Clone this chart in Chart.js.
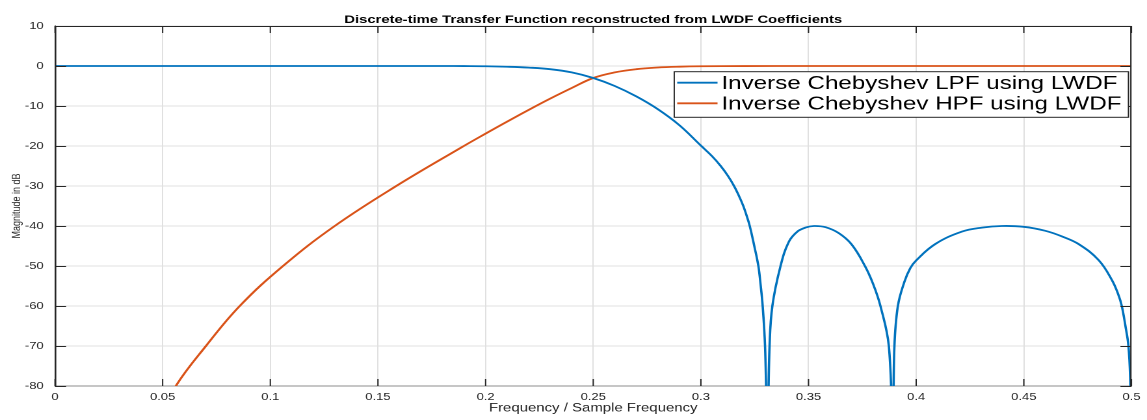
<!DOCTYPE html>
<html>
<head>
<meta charset="utf-8">
<title>Discrete-time Transfer Function</title>
<script src="https://cdn.jsdelivr.net/npm/chart.js@4.4.1/dist/chart.umd.min.js"></script>
<style>
  html, body { margin: 0; padding: 0; background: #fff; overflow: hidden; }
  /* the reference is a horizontally stretched MATLAB figure */
  #wrap { width: 882px; height: 420px; transform: scaleX(1.30045); transform-origin: 0 0; }
  #chart { display: block; }
</style>
</head>
<body>
<div id="wrap"><canvas id="chart" width="882" height="420" style="width:882px;height:420px"></canvas></div>
<script>
const chartTitle = 'Discrete-time Transfer Function reconstructed from LWDF Coefficients';
const xAxisTitle = 'Frequency / Sample Frequency';
const yAxisTitle = 'Magnitude in dB';
const seriesNames = ['Inverse Chebyshev LPF using LWDF', 'Inverse Chebyshev HPF using LWDF'];

const xTickValues = [0, 0.05, 0.1, 0.15, 0.2, 0.25, 0.3, 0.35, 0.4, 0.45, 0.5];
const xTickLabels = ['0', '0.05', '0.1', '0.15', '0.2', '0.25', '0.3', '0.35', '0.4', '0.45', '0.5'];
const yTickValues = [-80, -70, -60, -50, -40, -30, -20, -10, 0, 10];

// LPF (frequency, dB)
const lpfFreq = [0, 0.1, 0.18, 0.19, 0.2, 0.21, 0.22, 0.23, 0.24, 0.25, 0.26, 0.27, 0.28, 0.29,
  0.3, 0.3051, 0.3092, 0.3126, 0.3154, 0.3177, 0.3197, 0.3213, 0.3227, 0.3248, 0.3267, 0.3278, 0.3287, 0.3298,
  0.3309, 0.3319, 0.3332, 0.337,
  0.3409, 0.3448, 0.3486, 0.3525, 0.3579, 0.3641, 0.37, 0.3762, 0.38, 0.3834, 0.3873, 0.3891, 0.3899, 0.3915,
  0.3945, 0.3973, 0.4, 0.4089, 0.4213, 0.4306, 0.4398, 0.4499, 0.46, 0.4677, 0.4754, 0.4847, 0.4909, 0.494,
  0.4955, 0.4972, 0.4986, 0.4994, 0.5];
const lpfMag = [0, 0, 0, -0.02, -0.06, -0.18, -0.4, -0.8, -1.6, -3.0, -5.0, -7.6, -10.8, -14.8,
  -19.9, -22.5, -25, -27.5, -30, -32.5, -35, -37.5, -40, -45, -50, -55, -60, -70,
  -92, -70, -60, -50,
  -43.9, -41.4, -40.4, -40, -40.3, -41.8, -44.6, -50, -54.5, -60, -70, -92, -70, -60,
  -54, -50.5, -48.6, -44.5, -41.4, -40.4, -40, -40.2, -41.2, -42.6, -44.5, -48.5, -53.5, -57.3,
  -60, -65, -70, -78, -95];

// HPF (frequency, dB)
const hpfFreq = [0.05, 0.0561, 0.0701, 0.0858, 0.1059, 0.1299, 0.1585, 0.1886, 0.2, 0.21, 0.2234, 0.23, 0.24,
  0.25, 0.26, 0.27, 0.28, 0.29, 0.3, 0.32, 0.35, 0.5];
const hpfMag = [-87, -80, -70, -60, -50, -40, -30, -20.4, -16.9, -13.9, -10, -8.15, -5.5,
  -3.0, -1.6, -0.8, -0.38, -0.17, -0.07, -0.01, 0, 0];

const FONT = '"Liberation Sans", Arial, Helvetica, sans-serif';
const AXIS_COLOR = '#262626';

function toPoints(xs, ys) {
  return xs.map((x, i) => ({ x, y: ys[i] }));
}

// box, top/right edges and inward tick marks like a MATLAB axes
const axesBox = {
  id: 'axesBox',
  afterDatasetsDraw(chart) {
    const { ctx, chartArea: a, scales: { x, y } } = chart;
    ctx.save();
    ctx.lineWidth = 1;
    ctx.strokeStyle = AXIS_COLOR;
    ctx.beginPath();
    ctx.moveTo(a.left, a.top + 0.5); ctx.lineTo(a.right, a.top + 0.5);
    ctx.moveTo(a.right - 0.5, a.top); ctx.lineTo(a.right - 0.5, a.bottom);
    ctx.moveTo(a.left + 0.5, a.top); ctx.lineTo(a.left + 0.5, a.bottom);
    x.ticks.forEach(t => {
      const px = x.getPixelForValue(t.value);
      ctx.moveTo(px, a.bottom); ctx.lineTo(px, a.bottom - 7);
      ctx.moveTo(px, a.top); ctx.lineTo(px, a.top + 7);
    });
    y.ticks.forEach(t => {
      const py = Math.round(y.getPixelForValue(t.value)) + 0.5;
      ctx.moveTo(a.left, py); ctx.lineTo(a.left + 8.5, py);
      ctx.moveTo(a.right, py); ctx.lineTo(a.right - 8.5, py);
    });
    ctx.stroke();
    ctx.restore();
  }
};

const titleAndLegend = {
  id: 'titleAndLegend',
  afterDraw(chart) {
    const { ctx, chartArea: a } = chart;
    ctx.save();

    // title, centred over the axes
    ctx.font = 'bold 11.4px ' + FONT;
    ctx.fillStyle = '#000';
    ctx.textAlign = 'center';
    ctx.textBaseline = 'alphabetic';
    ctx.fillText(chartTitle, (a.left + a.right) / 2, 23);

    // legend box in the upper right corner
    const sets = chart.data.datasets;
    ctx.font = '18.6px ' + FONT;
    const textW = Math.max(...sets.map(d => ctx.measureText(d.label).width));
    const w = 2.3 + 31 + 3 + textW + 5.4;
    const right = a.right - 2.3;
    const left = right - w;
    const top = 71.7;
    const h = 45.6;
    ctx.fillStyle = '#fff';
    ctx.fillRect(left, top, w, h);
    ctx.strokeStyle = AXIS_COLOR;
    ctx.lineWidth = 1;
    ctx.strokeRect(left, top, w, h);
    sets.forEach((d, i) => {
      const yy = top + 11 + i * 20.6;
      ctx.strokeStyle = d.borderColor;
      ctx.lineWidth = 1.8;
      ctx.beginPath();
      ctx.moveTo(left + 2.3, yy);
      ctx.lineTo(left + 33.3, yy);
      ctx.stroke();
      ctx.fillStyle = '#000';
      ctx.textAlign = 'left';
      ctx.textBaseline = 'middle';
      ctx.fillText(d.label, left + 36.3, yy + 1);
    });
    ctx.restore();
  }
};

Chart.defaults.font.family = FONT;

new Chart(document.getElementById('chart'), {
  type: 'line',
  data: {
    datasets: [
      {
        label: seriesNames[0],
        data: toPoints(lpfFreq, lpfMag),
        borderColor: '#0072BD',
        borderWidth: 1.8,
        pointRadius: 0,
        tension: 0.4,
        fill: false
      },
      {
        label: seriesNames[1],
        data: toPoints(hpfFreq, hpfMag),
        borderColor: '#D95319',
        borderWidth: 1.8,
        pointRadius: 0,
        tension: 0.4,
        fill: false
      }
    ]
  },
  options: {
    responsive: false,
    maintainAspectRatio: false,
    devicePixelRatio: 2,
    animation: false,
    layout: { padding: { top: 26, right: 10.8, left: 0, bottom: 0 } },
    plugins: {
      legend: { display: false },
      title: { display: false },
      tooltip: { enabled: false }
    },
    scales: {
      x: {
        type: 'linear',
        min: 0,
        max: 0.5,
        afterBuildTicks: s => { s.ticks = xTickValues.map(v => ({ value: v })); },
        afterFit: s => { s.height = 34; },
        ticks: {
          autoSkip: false,
          maxRotation: 0,
          padding: 5,
          color: AXIS_COLOR,
          font: { size: 10 },
          callback: (v, i) => xTickLabels[i]
        },
        grid: { color: '#e0e0e0', drawTicks: false },
        border: { display: true, color: '#8c8c8c', width: 1 },
        title: {
          display: true,
          text: xAxisTitle,
          color: AXIS_COLOR,
          font: { size: 11.5 },
          padding: 4.6
        }
      },
      y: {
        min: -80,
        max: 10,
        afterBuildTicks: s => { s.ticks = yTickValues.map(v => ({ value: v })); },
        afterFit: s => { s.width = 42.3; },
        ticks: {
          autoSkip: false,
          padding: 8.7,
          color: AXIS_COLOR,
          font: { size: 10 },
          callback: v => String(v)
        },
        grid: { color: '#e0e0e0', drawTicks: false },
        border: { display: true, color: AXIS_COLOR, width: 1 },
        title: {
          display: true,
          text: yAxisTitle,
          color: AXIS_COLOR,
          font: { size: 9 },
          padding: 7.7
        }
      }
    }
  },
  plugins: [axesBox, titleAndLegend]
});
</script>
</body>
</html>
